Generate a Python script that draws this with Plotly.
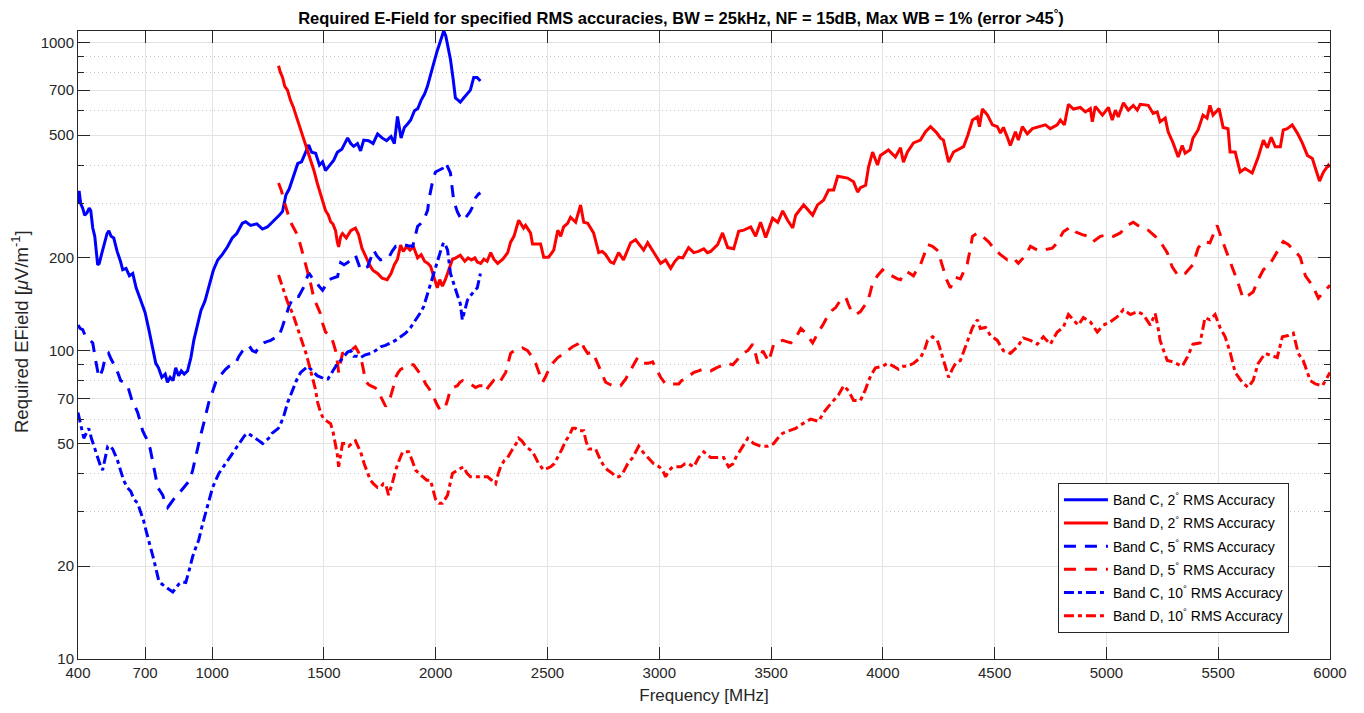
import plotly.graph_objects as go

# ---------------- data ----------------
c2_f = [400,405,412,421,430,440,450,457,466,475,488,495,505,520,530,538,548,560,575,590,600,615,630,645,660,680,700,717,735,748,760,775,790,800,812,825,837,850,862,875,890,905,918,935,950,968,985,1005,1025,1045,1068,1090,1110,1135,1150,1172,1200,1225,1247,1280,1300,1315,1322,1330,1345,1360,1383,1400,1420,1432,1445,1463,1480,1494,1507,1525,1544,1560,1580,1606,1620,1633,1650,1664,1678,1700,1720,1740,1760,1780,1800,1815,1829,1845,1860,1875,1888,1905,1920,1935,1950,1963,1975,1990,2007,2020,2030,2036,2045,2055,2066,2078,2088,2100,2110,2125,2142,2155,2170,2185,2200]
c2_v = [300,330,300,290,275,280,290,285,250,235,190,192,205,228,240,245,235,232,210,195,183,185,175,178,160,146,133,117,102,91,88,82,84,79,82,80,88,83,86,84,86,95,108,122,135,145,160,182,197,205,217,232,240,259,262,255,258,248,252,265,275,283,300,320,335,360,405,410,440,465,440,437,400,410,384,400,415,440,450,490,470,460,470,445,482,480,470,505,490,480,495,470,575,490,530,545,560,600,610,650,680,720,780,850,940,1000,1050,1090,1050,960,880,760,660,650,640,660,680,700,770,770,750]

d2_f = [1297,1305,1315,1325,1337,1350,1362,1375,1395,1418,1440,1455,1470,1490,1507,1520,1530,1540,1552,1560,1566,1575,1583,1600,1620,1641,1655,1670,1690,1707,1720,1740,1760,1783,1800,1815,1829,1843,1855,1870,1885,1901,1919,1935,1950,1965,1977,1990,2000,2007,2018,2030,2043,2060,2075,2090,2110,2130,2145,2160,2175,2186,2201,2215,2230,2246,2260,2277,2300,2322,2335,2350,2371,2393,2402,2424,2433,2469,2483,2505,2528,2546,2559,2572,2590,2603,2626,2648,2662,2680,2706,2729,2745,2760,2782,2796,2818,2840,2872,2894,2910,2930,2948,2970,2993,3006,3028,3051,3070,3087,3105,3131,3154,3175,3199,3215,3230,3261,3283,3306,3333,3355,3378,3409,3431,3453,3476,3507,3530,3552,3574,3597,3610,3646,3686,3708,3735,3757,3780,3798,3842,3869,3887,3900,3923,3936,3954,3976,3989,4025,4056,4079,4092,4110,4137,4168,4191,4213,4240,4258,4271,4294,4316,4334,4361,4380,4401,4423,4432,4445,4468,4490,4512,4526,4539,4557,4570,4593,4606,4624,4646,4669,4704,4727,4749,4780,4794,4812,4830,4852,4883,4906,4928,4937,4950,4982,5009,5026,5040,5053,5076,5098,5120,5138,5151,5187,5209,5227,5240,5263,5276,5298,5321,5339,5352,5374,5387,5410,5432,5450,5463,5477,5504,5522,5544,5553,5576,5598,5620,5652,5679,5702,5720,5737,5755,5778,5791,5809,5831,5854,5876,5899,5921,5935,5953,5971,5993,6000]
d2_v = [840,800,770,720,700,650,620,580,520,470,420,385,350,310,285,275,262,258,245,225,217,235,240,232,245,250,238,215,200,188,182,178,172,170,178,190,198,220,210,218,212,217,200,205,195,192,188,175,165,160,170,162,170,185,198,200,204,195,200,197,200,194,192,198,195,208,198,192,198,208,225,235,265,250,255,241,222,222,201,201,212,246,235,252,259,271,261,297,261,259,241,208,210,205,194,192,208,197,224,229,222,212,224,212,200,192,197,185,195,201,200,216,208,210,214,208,210,221,241,216,214,244,246,252,235,261,233,269,261,284,265,250,275,297,275,297,308,332,332,368,363,353,327,338,344,394,441,400,430,448,425,455,409,441,472,482,513,533,510,489,482,409,441,448,459,500,560,573,533,608,581,540,533,508,530,492,463,513,482,533,505,525,533,540,525,540,560,540,630,608,615,595,610,553,620,581,615,560,603,573,637,603,625,603,630,625,588,595,553,568,513,472,425,463,437,448,489,520,581,568,625,581,610,530,525,441,441,380,390,377,425,482,455,492,459,459,520,525,540,508,472,430,420,390,355,380,400,394]

c5_f = [400,410,421,432,443,455,466,479,493,502,510,522,537,548,559,575,591,605,622,633,644,655,667,678,689,700,712,723,734,745,757,768,779,790,801,815,828,845,859,875,890,900,913,925,935,948,962,973,985,1000,1016,1030,1047,1060,1075,1090,1105,1120,1137,1150,1164,1180,1195,1210,1231,1245,1262,1280,1298,1315,1329,1345,1365,1387,1410,1432,1448,1463,1478,1494,1508,1521,1540,1561,1575,1590,1606,1620,1641,1652,1664,1680,1695,1710,1722,1737,1753,1770,1789,1805,1821,1834,1857,1877,1897,1908,1919,1932,1946,1955,1964,1970,1977,1988,1999,2015,2030,2044,2055,2066,2072,2079,2088,2097,2108,2120,2130,2142,2153,2164,2172,2178,2191,2200]
c5_v = [121,118,117,112,110,108,106,93,82,84,87,95,98,94,91,86,80,79,77,72,68,66,63,59,55,53,51,48,44,40,36,35,34,32,31,32,33,34,35,36,37,38,41,45,49,53,58,63,68,73,79,82,85,87,89,90,91,96,100,102,104,100,99,103,106,107,108,110,111,120,129,140,150,150,161,179,172,168,162,157,163,170,172,174,193,190,193,198,204,195,183,185,187,200,212,203,197,198,200,210,218,218,221,219,218,235,253,258,265,275,286,310,332,360,380,385,390,409,395,377,345,313,295,282,272,265,268,275,282,292,305,313,322,325]

d5_f = [1297,1310,1325,1337,1350,1365,1382,1395,1410,1425,1440,1455,1470,1484,1495,1507,1520,1530,1542,1552,1560,1566,1575,1583,1600,1620,1641,1652,1664,1675,1686,1697,1708,1725,1740,1758,1776,1787,1798,1810,1821,1832,1843,1858,1874,1887,1901,1920,1941,1955,1972,1990,2005,2021,2033,2044,2055,2066,2080,2097,2108,2120,2138,2155,2178,2196,2214,2223,2240,2259,2270,2281,2295,2313,2325,2335,2350,2366,2389,2411,2433,2447,2462,2478,2490,2500,2523,2546,2565,2581,2612,2635,2648,2664,2680,2702,2715,2729,2745,2760,2775,2791,2810,2827,2850,2866,2881,2903,2915,2930,2950,2970,2988,3006,3028,3045,3064,3087,3100,3118,3135,3154,3175,3194,3212,3230,3255,3275,3290,3306,3329,3350,3373,3396,3418,3430,3441,3452,3463,3476,3490,3500,3512,3530,3552,3570,3588,3610,3633,3655,3670,3686,3698,3708,3731,3757,3772,3789,3811,3834,3845,3856,3878,3900,3915,3932,3944,3954,3976,3999,4021,4048,4065,4079,4092,4110,4137,4150,4168,4185,4200,4222,4249,4260,4271,4285,4302,4325,4347,4362,4378,4390,4401,4423,4445,4472,4503,4526,4557,4584,4606,4628,4645,4660,4691,4718,4758,4780,4807,4839,4861,4892,4919,4941,4973,5009,5031,5062,5094,5120,5151,5187,5218,5249,5272,5294,5321,5352,5387,5410,5432,5463,5480,5495,5517,5540,5562,5584,5611,5634,5656,5679,5702,5733,5764,5791,5813,5845,5867,5890,5921,5948,5971,6000]
d5_v = [350,330,300,280,262,250,237,220,201,182,166,148,140,132,122,115,113,112,106,100,92,85,92,98,99,100,103,100,96,88,80,78,77,76,75,70,66,68,71,76,82,85,87,88,89,90,90,86,82,78,75,71,67,64,65,66,70,75,76,77,79,80,79,78,76,77,77,74,77,80,79,78,81,85,92,98,100,100,102,100,95,91,85,79,82,85,91,95,97,99,103,105,108,102,98,99,94,89,84,79,78,77,77,77,81,85,89,95,93,91,91,92,87,82,78,78,78,78,80,81,83,85,86,87,86,86,88,89,90,91,90,94,98,100,105,98,91,95,100,96,92,98,105,107,108,107,106,110,118,114,110,106,110,114,121,131,135,138,146,149,142,136,131,134,139,144,155,166,175,183,178,173,171,170,178,180,175,182,190,205,221,218,210,195,183,170,160,173,171,180,192,212,235,241,235,226,212,205,197,200,192,200,208,218,212,212,215,224,243,252,243,238,235,226,235,238,235,241,255,261,252,246,235,221,208,187,175,178,190,215,226,224,240,255,229,208,187,170,148,151,155,170,183,192,210,226,221,210,201,175,163,148,155,163]

c10_f = [400,406,412,419,426,437,448,460,471,482,493,502,510,522,533,544,555,566,577,590,604,620,636,650,667,680,694,705,716,728,739,750,761,775,792,808,824,838,851,866,882,898,913,927,940,955,971,987,1002,1016,1030,1050,1069,1082,1096,1112,1128,1145,1159,1177,1195,1210,1226,1240,1253,1268,1284,1296,1307,1322,1338,1352,1365,1380,1396,1412,1428,1442,1455,1470,1487,1502,1518,1531,1544,1561,1575,1590,1606,1620,1633,1650,1664,1685,1708,1730,1753,1775,1798,1820,1843,1865,1888,1905,1919,1932,1946,1957,1968,1980,1990,2001,2012,2024,2035,2044,2053,2060,2066,2077,2088,2099,2110,2119,2130,2142,2153,2164,2175,2186,2193,2200]
c10_v = [63,60,58,54,52,54,56,52,49,46,44,42,41,45,49,49,48,46,44,41,38,36,35,33,32,30,28,26,24,22.5,21,19.5,18,17.5,17.1,16.8,16.5,17,17.5,17.8,17.7,19.5,21.5,23,24.3,27,29.7,33,36,38,40,42,44,45.5,47,49,51,53,54,53,52,51,50,51,52,54,55,56,58,62,68,72,77,81,85,87,89,87,85,83,82,81,81,84,87,91,93,96,99,100,96,96,95,97,98,100,103,104,106,108,111,114,119,124,129,133,139,148,157,168,178,190,201,213,224,220,212,195,178,168,160,150,142,126,135,146,150,154,157,160,170,178]

d10_f = [1297,1315,1337,1360,1382,1405,1420,1432,1450,1462,1472,1485,1499,1515,1530,1542,1552,1560,1566,1575,1583,1597,1611,1625,1641,1652,1664,1680,1695,1708,1722,1740,1753,1765,1776,1789,1805,1821,1836,1852,1866,1879,1895,1910,1925,1941,1960,1977,1990,1999,2015,2030,2042,2053,2064,2075,2097,2124,2140,2155,2170,2186,2201,2222,2232,2250,2268,2280,2290,2306,2322,2344,2360,2371,2385,2402,2417,2433,2447,2460,2483,2514,2530,2546,2565,2581,2597,2612,2625,2639,2662,2672,2684,2700,2715,2738,2755,2769,2790,2805,2820,2836,2859,2881,2895,2908,2926,2948,2975,3000,3015,3028,3045,3060,3080,3096,3115,3131,3154,3176,3199,3215,3230,3261,3288,3310,3330,3342,3358,3373,3385,3396,3410,3422,3453,3485,3512,3530,3552,3579,3610,3642,3677,3713,3735,3757,3780,3802,3825,3847,3869,3900,3923,3936,3950,3967,3999,4021,4048,4070,4092,4110,4137,4168,4185,4200,4222,4244,4255,4267,4280,4294,4310,4325,4347,4362,4378,4390,4401,4423,4436,4459,4481,4512,4539,4570,4602,4628,4660,4691,4718,4749,4780,4807,4830,4852,4874,4897,4928,4959,4986,5017,5049,5076,5107,5138,5165,5196,5218,5230,5240,5256,5272,5298,5339,5361,5387,5419,5441,5463,5486,5508,5531,5553,5576,5607,5634,5656,5679,5710,5742,5764,5787,5813,5836,5858,5880,5912,5935,5966,5988,6000]
d10_v = [176,161,144,132,119,106,98,91,82,75,68,63,60,59,58,54,50,46,42,46,50,50,49,50,51,49,47,43,40,38,37,36,36,37,37,34,37,41,44,47,47,47,44,41,40,39,38,38,35,33,32,32,33,34,37,40,41,42,40,39,39,39,39,39,39,38,37,40,42,44,45,48,50,52,51,49,48,47,45,43,41,42,43,45,48,51,53,56,56,55,55,51,48,48,48,44,42,41,40,39,39,40,43,45,47,49,47,45,43,42,41,39,41,42,42,42,43,43,42,45,47,46,45,45,45,42,43,45,47,49,51,52,51,50,49,49,50,52,54,55,56,58,60,59,63,66,69,72,77,74,69,69,75,80,84,88,89,91,89,87,89,89,91,95,100,108,111,108,102,95,88,82,87,91,93,100,108,114,119,126,118,119,112,108,100,98,103,110,108,105,111,105,115,119,131,126,121,128,124,115,121,124,129,136,131,134,131,121,132,120,108,100,93,92,89,95,105,106,128,126,131,119,111,99,85,79,76,80,91,98,96,95,111,112,114,98,93,80,78,77,82,85]

names = ["Band C, 2<sup>°</sup> RMS Accuracy", "Band D, 2<sup>°</sup> RMS Accuracy",
         "Band C, 5<sup>°</sup> RMS Accuracy", "Band D, 5<sup>°</sup> RMS Accuracy",
         "Band C, 10<sup>°</sup> RMS Accuracy", "Band D, 10<sup>°</sup> RMS Accuracy"]

x_ticks = [400, 700, 1000, 1500, 2000, 2500, 3000, 3500, 4000, 4500, 5000, 5500, 6000]
y_ticks = [10, 20, 50, 70, 100, 200, 500, 700, 1000]
y_minor = [30, 40, 60, 80, 90, 300, 400, 600, 800, 900]

# ---------------- figure ----------------
BLUE, RED = "#0000FF", "#FF0000"
DASH = "12px,9px"
DASHDOT = "10px,4px,4px,4px"
series = [(c2_f, c2_v, BLUE, "solid"), (d2_f, d2_v, RED, "solid"),
          (c5_f, c5_v, BLUE, DASH), (d5_f, d5_v, RED, DASH),
          (c10_f, c10_v, BLUE, DASHDOT), (d10_f, d10_v, RED, DASHDOT)]

fig = go.Figure()
for i, (fx, fy, col, dsh) in enumerate(series):
    fig.add_trace(go.Scatter(x=fx, y=fy, mode="lines", name=names[i],
                             legendgroup="g%d" % i,
                             line=dict(color=col, width=3, dash=dsh)))

AX = "#262626"
GRID = "#e3e3e3"
# page body has an 8px margin, so the figure is offset by (8, 8)
W, H = 1356, 705
ML, MT, MB, MR = 70, 23, 54, 34
PW, PH = W - ML - MR, H - MT - MB
fig.update_layout(
    width=W, height=H,
    margin=dict(l=ML, r=MR, t=MT, b=MB),
    paper_bgcolor="white", plot_bgcolor="white",
    font=dict(family="Liberation Sans, Arial, sans-serif", size=14, color=AX),
    title=dict(text="<b>Required E-Field for specified RMS accuracies, BW = 25kHz, NF = 15dB, Max WB = 1% (error >45<sup>°</sup>)</b>",
               x=(681 - 78) / 1252, xanchor="center", xref="paper", yref="container",
               y=1 - 10.0 / H, yanchor="middle",
               font=dict(size=16.5, color="#000000")),
    showlegend=True,
    legend=dict(x=0.7827, y=0.280, xanchor="left", yanchor="top",
                bgcolor="white", bordercolor=AX, borderwidth=1,
                font=dict(size=14, color="#000000"), tracegroupgap=2,
                itemwidth=44, traceorder="grouped"),
    annotations=[dict(text="Required EField [<i>μ</i>V/m<sup>-1</sup>]",
                      xref="paper", yref="paper",
                      x=(12 - ML) / PW, y=(MT + PH - (332 - 8)) / PH,
                      xanchor="center", yanchor="middle", textangle=-90,
                      showarrow=False, font=dict(size=18.5, color=AX))],
)
fig.update_xaxes(
    range=[400, 6000], tickmode="array", tickvals=x_ticks,
    ticktext=[str(v) for v in x_ticks],
    ticks="inside", ticklen=12, tickcolor=AX, tickwidth=1,
    showline=True, linecolor=AX, linewidth=1, mirror="ticks",
    showgrid=True, gridcolor=GRID, gridwidth=1, zeroline=False,
    tickfont=dict(size=15, color=AX),
    title=dict(text="Frequency [MHz]", font=dict(size=17, color=AX), standoff=9),
)
fig.update_yaxes(
    type="log", range=[1, 3.037], tickmode="array", tickvals=y_ticks,
    ticktext=[str(v) for v in y_ticks],
    ticks="inside", ticklen=12, tickcolor=AX, tickwidth=1,
    showline=True, linecolor=AX, linewidth=1, mirror="ticks",
    showgrid=True, gridcolor=GRID, gridwidth=1, zeroline=False,
    tickfont=dict(size=15, color=AX),
    minor=dict(tickmode="array", tickvals=y_minor, ticks="inside", ticklen=6,
               tickcolor=AX, showgrid=True, gridcolor="#c4c4c4", griddash="1px,3px", gridwidth=1),
)

fig.write_html("out.html")
